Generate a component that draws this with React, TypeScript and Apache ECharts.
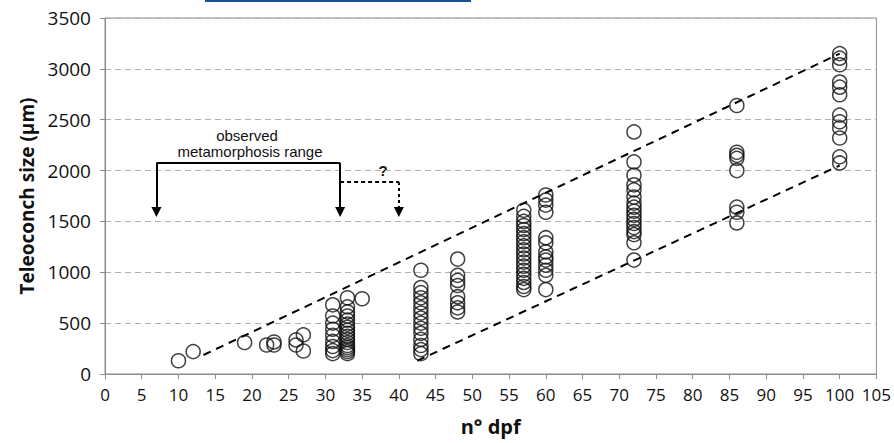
import React, { useEffect, useRef } from "react";
import * as echarts from "echarts";

// x values (days post fertilization) and the teleoconch sizes observed on each day
const days = [10, 12, 19, 22, 23, 26, 27, 31, 33, 35, 43, 48, 57, 60, 72, 86, 100];
const sizesByDay = [
  [130],
  [220],
  [310],
  [285],
  [315, 285],
  [335, 285],
  [385, 226],
  [680, 570, 500, 440, 380, 320, 270, 230, 200],
  [750, 660, 610, 570, 530, 490, 460, 430, 400, 370, 340, 310, 280, 260, 240, 220, 200],
  [740],
  [1020, 850, 800, 750, 700, 650, 600, 550, 500, 450, 400, 340, 280, 240, 200],
  [1130, 970, 920, 870, 760, 700, 650, 610],
  [1610, 1550, 1500, 1460, 1420, 1380, 1340, 1300, 1260, 1220, 1180, 1140, 1100, 1060, 1020, 980, 940, 900, 860, 830],
  [1760, 1710, 1660, 1590, 1340, 1290, 1200, 1150, 1120, 1070, 1020, 970, 830],
  [2380, 2085, 1955, 1860, 1810, 1740, 1680, 1640, 1600, 1560, 1520, 1480, 1440, 1400, 1370, 1290, 1120],
  [2640, 2180, 2150, 2120, 2000, 1640, 1590, 1485],
  [3150, 3105, 3040, 2870, 2820, 2745, 2545, 2480, 2420, 2320, 2135, 2075],
];

// envelope lines
const upperLine = [
  [13.4, 187],
  [100, 3150],
];
const lowerLine = [
  [42.5, 130],
  [100, 2050],
];

// metamorphosis-range annotation (data units)
const bracketLeftX = 7;
const bracketRightX = 32;
const bracketTopY = 2075;
const arrowTipY = 1593;
const questionX = 40;
const questionY = 1888;

const FONT = "'Open Sans', 'DejaVu Sans', sans-serif";
const ANNOT_FONT = "15px 'Liberation Sans', Arial, sans-serif";

export default function App() {
  const ref = useRef<HTMLDivElement>(null);

  useEffect(() => {
    if (!ref.current) return;
    const chart = echarts.init(ref.current, null, { renderer: "svg" });

    const points: number[][] = [];
    days.forEach((d, i) => sizesByDay[i].forEach((s) => points.push([d, s])));

    const solid = { color: "#000", width: 2, type: "solid" as const };

    const option: any = {
      animation: false,
      grid: {
        left: 105,
        right: 14,
        top: 18,
        bottom: 69,
        show: true,
        borderColor: "#8c8c8c",
        borderWidth: 1,
        backgroundColor: "transparent",
      },
      xAxis: {
        type: "value",
        min: 0,
        max: 105,
        interval: 5,
        name: "n° dpf",
        nameLocation: "middle",
        nameGap: 42,
        nameTextStyle: { fontFamily: FONT, fontWeight: "bold", fontSize: 20, color: "#111" },
        axisLine: { lineStyle: { color: "#8c8c8c", width: 1 } },
        axisTick: { show: true, length: 5, lineStyle: { color: "#8c8c8c" } },
        axisLabel: { fontFamily: FONT, fontSize: 17, color: "#111", margin: 12 },
        splitLine: { show: false },
      },
      yAxis: {
        type: "value",
        min: 0,
        max: 3500,
        interval: 500,
        name: "Teleoconch size (µm)",
        nameLocation: "middle",
        nameGap: 66,
        nameTextStyle: { fontFamily: FONT, fontWeight: "bold", fontSize: 19, color: "#111" },
        axisLine: { show: true, lineStyle: { color: "#8c8c8c", width: 1 } },
        axisTick: { show: true, length: 5, lineStyle: { color: "#8c8c8c" } },
        axisLabel: {
          fontFamily: FONT,
          fontSize: 19,
          color: "#111",
          margin: 14,
          formatter: (v: number) => String(v),
        },
        splitLine: { show: true, lineStyle: { color: "#b0b0b0", type: [6, 4], width: 1 } },
      },
      graphic: [
        {
          type: "rect",
          left: 205,
          top: 0,
          shape: { width: 266, height: 2 },
          style: { fill: "#1f4e9c" },
        },
        {
          type: "text",
          x: 247,
          y: 135,
          style: { text: "observed", font: ANNOT_FONT, fill: "#111", align: "center", verticalAlign: "middle" },
        },
        {
          type: "text",
          x: 250,
          y: 151,
          style: {
            text: "metamorphosis range",
            font: ANNOT_FONT,
            fill: "#111",
            align: "center",
            verticalAlign: "middle",
          },
        },
        {
          type: "text",
          x: 383,
          y: 170,
          style: {
            text: "?",
            font: "bold 15px 'Liberation Sans', Arial, sans-serif",
            fill: "#111",
            align: "center",
            verticalAlign: "middle",
          },
        },
      ],
      series: [
        {
          type: "scatter",
          data: points,
          symbol: "circle",
          symbolSize: 14,
          itemStyle: { color: "rgba(0,0,0,0)", borderColor: "#111", borderWidth: 1.5 },
          silent: true,
          z: 3,
        },
        {
          type: "line",
          data: upperLine,
          symbol: "none",
          lineStyle: { color: "#000", width: 2, type: [8, 6] },
          silent: true,
          z: 2,
        },
        {
          type: "line",
          data: lowerLine,
          symbol: "none",
          lineStyle: { color: "#000", width: 2, type: [8, 6] },
          silent: true,
          z: 2,
          markLine: {
            silent: true,
            animation: false,
            label: { show: false },
            symbolSize: 10,
            data: [
              [
                { coord: [bracketLeftX, bracketTopY], symbol: "none", lineStyle: solid },
                { coord: [bracketLeftX, arrowTipY], symbol: "triangle" },
              ],
              [
                { coord: [bracketLeftX, bracketTopY], symbol: "none", lineStyle: solid },
                { coord: [bracketRightX, bracketTopY], symbol: "none" },
              ],
              [
                { coord: [bracketRightX, bracketTopY], symbol: "none", lineStyle: solid },
                { coord: [bracketRightX, arrowTipY], symbol: "triangle" },
              ],
              [
                {
                  coord: [bracketRightX, questionY],
                  symbol: "none",
                  lineStyle: { color: "#000", width: 2, type: [4, 3] },
                },
                { coord: [questionX, questionY], symbol: "none" },
              ],
              [
                {
                  coord: [questionX, questionY],
                  symbol: "none",
                  lineStyle: { color: "#000", width: 2, type: [3, 3] },
                },
                { coord: [questionX, arrowTipY], symbol: "triangle" },
              ],
            ],
          },
        },
      ],
    };

    chart.setOption(option);
    return () => chart.dispose();
  }, []);

  return (
    <div
      ref={ref}
      style={{ position: "fixed", left: 0, top: 0, width: 894, height: 443, background: "#fff" }}
    />
  );
}
